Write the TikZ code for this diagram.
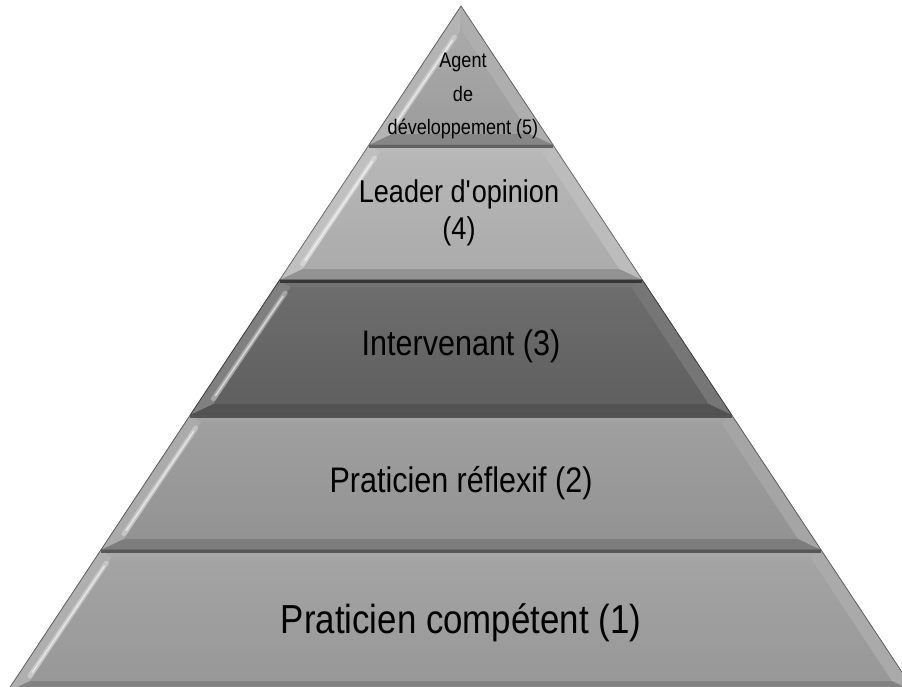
\documentclass[tikz,border=0pt]{standalone}
\usepackage{fontspec}
\setmainfont{Liberation Sans}[FakeStretch=0.86]
\usepackage{xcolor}
\usepackage{tikz}
\usetikzlibrary{positioning}

\definecolor{tierFive}{gray}{0.64}
\definecolor{tierFour}{gray}{0.70}
\definecolor{tierThree}{gray}{0.39}
\definecolor{tierTwo}{gray}{0.60}
\definecolor{tierOne}{gray}{0.62}

% one bevelled slice of the pyramid: #1 top y, #2 bottom y, #3 colour
\newcommand{\tier}[3]{%
  \pgfmathsetmacro\hwTop{0.662*(#1-6)}
  \pgfmathsetmacro\hwBot{0.662*(#2-6)}
  \pgfmathsetmacro\inTopY{max(#1+7,31)}
  \pgfmathsetmacro\inTop{max(0.662*(\inTopY-6)-16,0)}
  \pgfmathsetmacro\inBotY{#2-11}
  \pgfmathsetmacro\inBot{0.662*(\inBotY-6)-16}
  % body
  \fill[#3] (461-\hwTop,#1) -- (461+\hwTop,#1) -- (461+\hwBot,#2) -- (461-\hwBot,#2) -- cycle;
  % bevel faces
  \fill[#3!82!white] (461-\hwTop,#1) -- (461-\inTop,\inTopY) -- (461-\inBot,\inBotY) -- (461-\hwBot,#2) -- cycle;
  \fill[#3!88!white] (461+\hwTop,#1) -- (461+\inTop,\inTopY) -- (461+\inBot,\inBotY) -- (461+\hwBot,#2) -- cycle;
  \fill[#3!90!white] (461-\hwTop,#1) -- (461+\hwTop,#1) -- (461+\inTop,\inTopY) -- (461-\inTop,\inTopY) -- cycle;
  \fill[#3!82!black] (461-\hwBot,#2) -- (461-\inBot,\inBotY) -- (461+\inBot,\inBotY) -- (461+\hwBot,#2) -- cycle;
  % front face
  \shade[top color=#3!94!white, bottom color=#3!96!black]
    (461-\inTop,\inTopY) -- (461+\inTop,\inTopY) -- (461+\inBot,\inBotY) -- (461-\inBot,\inBotY) -- cycle;
  % shine on the left bevel
  \draw[white, opacity=.3, line width=5pt, line cap=round, shorten >=5pt, shorten <=5pt]
    (461-\inTop-3,\inTopY+2) -- (461-\inBot-3,\inBotY-1);
  \draw[white, opacity=.55, line width=1.5pt, line cap=round, shorten >=9pt, shorten <=9pt]
    (461-\inTop-3,\inTopY+2) -- (461-\inBot-3,\inBotY-1);
  % rim
  \draw[#3!60!black, line width=.8pt, line join=round]
    (461-\hwTop,#1) -- (461+\hwTop,#1) -- (461+\hwBot,#2) -- (461-\hwBot,#2) -- cycle;
  \draw[#3!55!black, line width=3pt] (461-\hwTop,#1+1.5) -- (461+\hwTop,#1+1.5);
}

\begin{document}
\begin{tikzpicture}
  [
    x=1pt, y=-1pt,
    Tier/.style={anchor=base, inner sep=0pt, text=black, align=center},
    Huge/.style={font=\fontsize{40.5}{48}\selectfont},
    Large/.style={font=\fontsize{35.5}{42}\selectfont},
    Medium/.style={font=\fontsize{31.5}{37}\selectfont},
    Small/.style={font=\fontsize{21}{33.5}\selectfont}
  ]
  \fill[white] (0,0) rectangle (902,687);
  \clip (0,0) rectangle (902,687);
  % Slices
  \tier{6}{145}{tierFive}
  \tier{145}{280}{tierFour}
  \tier{280}{415}{tierThree}
  \tier{415}{550}{tierTwo}
  \tier{550}{692}{tierOne}
  % Labels (base = last line)
  \node[Tier, Small] (agent) at (463, 135) {Agent\\de\\développement (5)};
  \node[Tier, Medium] (leader) at (459, 240) {Leader d\textquotesingle opinion\\(4)};
  \node[Tier, Large] (interv) at (461, 355) {Intervenant (3)};
  \node[Tier, Large] (reflex) at (461, 492) {Praticien réflexif (2)};
  \node[Tier, Huge] (compet) at (461, 633) {Praticien compétent (1)};
\end{tikzpicture}
\end{document}
